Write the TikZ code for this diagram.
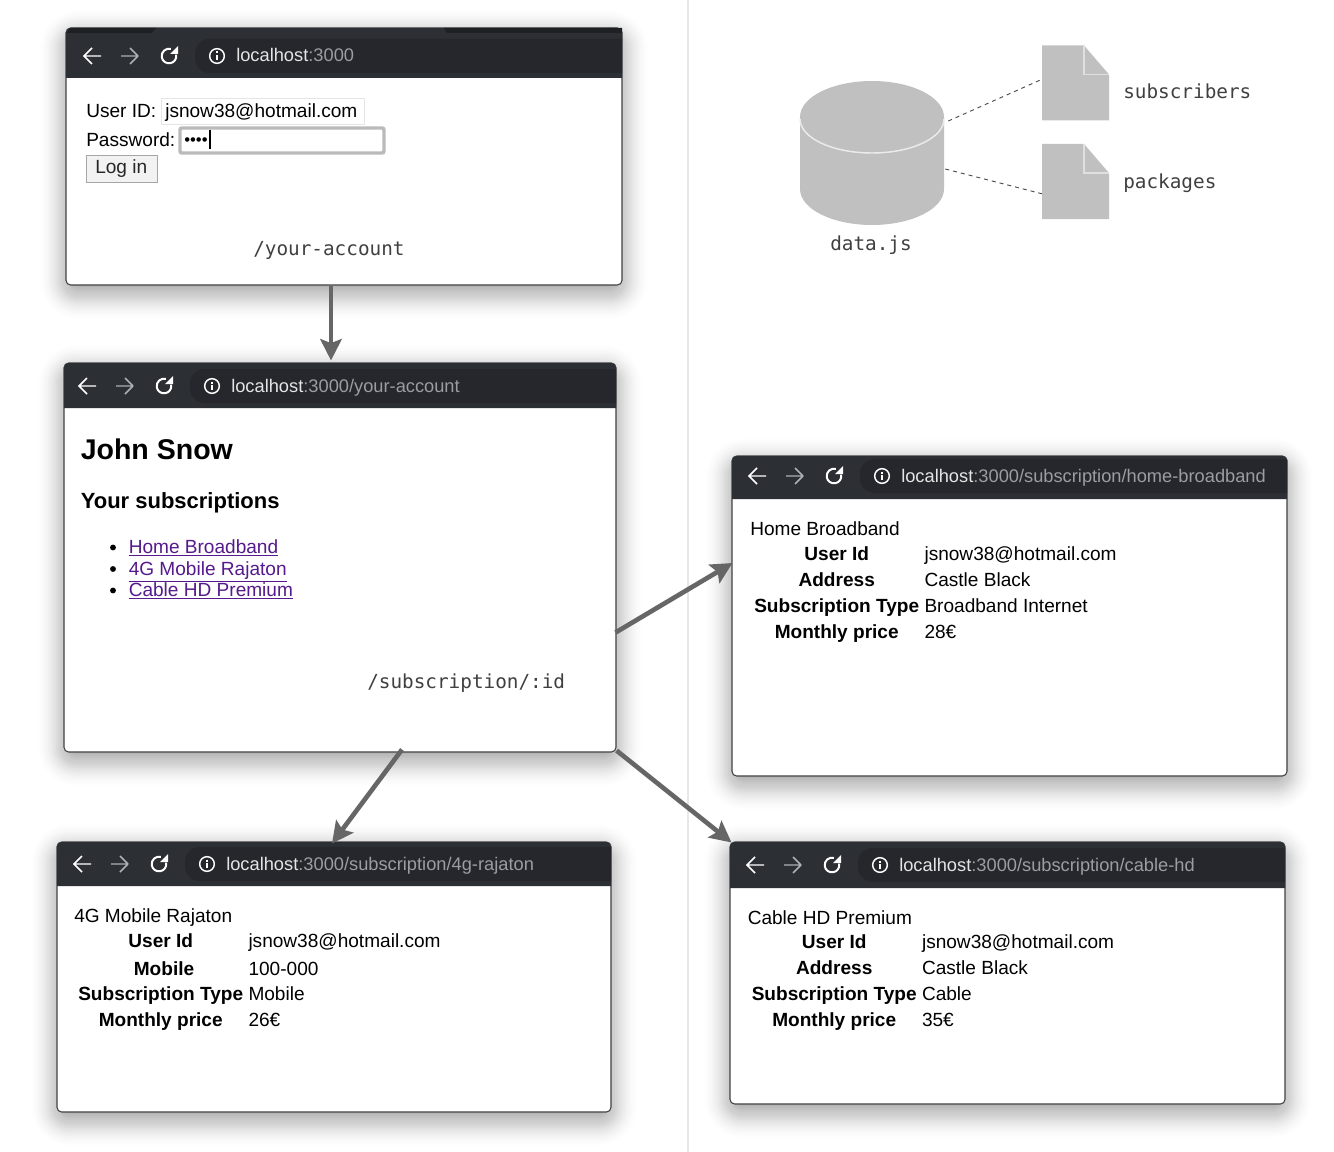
\documentclass[tikz,border=0pt]{standalone}
\usepackage{fontspec}
\setmainfont{Liberation Sans}
\setmonofont{DejaVu Sans Mono}
\usetikzlibrary{arrows.meta,calc,fit}

\definecolor{barcol}{HTML}{2C2F33}
\definecolor{pillcol}{HTML}{25272C}
\definecolor{tabcol}{HTML}{1F2023}
\definecolor{urlgray}{HTML}{9A9DA1}
\definecolor{linkcol}{HTML}{551A8B}
\definecolor{storecol}{HTML}{C0C0C0}

\tikzset{
  winbody/.style={draw=black!75, line width=0.8pt, fill=white, rounded corners=3.5pt, inner sep=0pt},
  urltext/.style={anchor=base west, inner sep=0pt, text=white!90!black, font=\fontsize{13.7pt}{16pt}\selectfont},
  pagetext/.style={anchor=base west, inner sep=0pt, font=\fontsize{14.3pt}{17pt}\selectfont},
  tabletext/.style={anchor=north west, inner sep=0pt, font=\fontsize{14.3pt}{19.5pt}\selectfont},
  monotext/.style={anchor=west, inner sep=0pt, text=black!75, font=\ttfamily\fontsize{14.5pt}{17pt}\selectfont},
  linktext/.style={anchor=base west, inner sep=0pt, text=linkcol, font=\fontsize{14.3pt}{17pt}\selectfont},
  flow/.style={draw=black!60, line width=3.5pt, -{Stealth[length=16pt,width=16pt,inset=3pt]}},
  storeline/.style={draw=black!70, line width=0.7pt, dashed},
  docbox/.style={inner sep=0pt, minimum width=50.25pt, minimum height=56.25pt}
}

% name, left, top, right, bottom, bar bottom, back arrow x, path of the url, icon y
\newcommand{\browserwin}[9]{
  \foreach \s in {-10,-8,...,26} {
    \pgfmathsetmacro{\op}{0.04*(1-(\s+10)/40)}
    \pgfmathsetmacro{\rc}{(\s+12)*0.75}
    \fill[black, opacity=\op, rounded corners=\rc pt] (#2-\s,#3+8-\s) rectangle (#4+\s,#5+8+\s);
  }
  \node[winbody, fit={(#2,#3)(#4,#5)}] (#1) {};
  \fill[barcol] (#2,#6) [rounded corners=3.5pt] -- (#2,#3) -- (#4,#3) [sharp corners] -- (#4,#6) -- cycle;
  \begin{scope}[shift={(#7,#9)}]
    \fill[pillcol] (#4-#7,-17) [rounded corners=11pt] -- (103,-17) -- (103,17) [sharp corners] -- (#4-#7,17) -- cycle;
    \draw[white, line width=1.1pt] (9,0) -- (-8,0) (0,-8) -- (-8,0) -- (0,8);
    \draw[urlgray!80, line width=1.1pt] (29,0) -- (46,0) (38,-8) -- (46,0) (38,8) -- (46,0);
    \draw[white, line width=1.5pt] (77,0) ++(10:5.5pt) arc[start angle=10,end angle=-285,radius=5.5pt];
    \fill[white] (86,-10) -- (86,-2) -- (78,-2) -- cycle;
    \draw[white, line width=1.1pt] (125,0) circle[radius=5.5pt];
    \draw[white, line width=1.3pt] (125,-1) -- (125,4) (125,-4.5) -- (125,-2.5);
    \node[urltext] (#1_url) at (144,6) {localhost{\color{urlgray}#8}};
  \end{scope}
}

% name, left, top of the page icon
\newcommand{\docicon}[3]{
  \node[docbox, anchor=north west] (#1) at (#2,#3) {};
  \fill[storecol] (#2,#3) -- (#2+42,#3) -- (#2+67,#3+29) -- (#2+67,#3+75) -- (#2,#3+75) -- cycle;
  \draw[white!88!black, line width=0.9pt] (#2+42,#3) -- (#2+42,#3+29) -- (#2+67,#3+29);
}

\begin{document}
\begin{tikzpicture}[x=0.75pt,y=-0.75pt]
  \useasboundingbox (0,0) rectangle (1334,1152);
  \draw[black!9, line width=0.8pt] (688,0) -- (688,1152);

  % login
  \browserwin{win_login}{66}{28}{622}{285}{78}{92}{:3000}{56}
  \fill[tabcol] (447,33) -- (444,28) -- (622,28) -- (622,33) -- cycle;
  \fill[tabcol] (70,28) -- (156,28) -- (152,33) -- (67,33) -- cycle;
  \node[pagetext] (login_user) at (86,118) {User ID:};
  \node[draw=black!10, line width=0.7pt, fit={(161,98)(364,124)}, inner sep=0pt] (login_input) {};
  \node[pagetext] (login_mail) at (165,118) {jsnow38@hotmail.com};
  \node[pagetext] (login_pass) at (86,146.5) {Password:};
  \node[draw=black!27, line width=2.6pt, fill=white, rounded corners=1.5pt, fit={(180,128)(384,153)}, inner sep=0pt] (login_focus) {};
  \node[pagetext, font=\fontsize{12.5pt}{14pt}\selectfont] (login_dots) at (184,146) {••••};
  \draw[black, line width=0.9pt] (210,130) -- (210,149);
  \node[draw=black!35, line width=0.7pt, fill=black!5, fit={(86,155)(157,182)}, inner sep=0pt] (login_btn) {};
  \node[pagetext, text=black!85] (login_txt) at (95,174) {Log in};
  \node[monotext] (login_route) at (253,250) {/your-account};

  % account
  \browserwin{win_acct}{64}{363}{616}{752}{408}{87}{:3000/your-account}{386}
  \node[pagetext, font=\bfseries\fontsize{21.4pt}{25pt}\selectfont] (acct_name) at (80.5,459) {John Snow};
  \node[pagetext, font=\bfseries\fontsize{16.5pt}{20pt}\selectfont] (acct_subs) at (80.5,508.5) {Your subscriptions};
  \foreach \y/\n/\t in {553.5/home/Home Broadband, 575/mobile/4G Mobile Rajaton, 596.5/cable/Cable HD Premium} {
    \fill ($(113,\y)+(0,-6)$) circle[radius=2.2pt];
    \node[linktext] (link_\n) at (128.5,\y) {\underline{\t}};
  }
  \node[monotext] (acct_route) at (367,683) {/subscription/:id};

  % home broadband
  \browserwin{win_home}{732}{456}{1287}{776}{499}{757}{:3000/subscription/home-broadband}{476}
  \node[tabletext] (home_tab) at (750,517)
  {
  \begin{tabular}{@{\hspace{3pt}}c@{\hspace{4pt}}l}
  \multicolumn{2}{@{}l}{Home Broadband} \\[-0.8pt]
  \textbf{User Id} & jsnow38@hotmail.com \\
  \textbf{Address} & Castle Black \\
  \textbf{Subscription Type} & Broadband Internet \\
  \textbf{Monthly price} & 28€ \\
  \end{tabular}
  };

  % 4g mobile
  \browserwin{win_mobile}{57}{842}{611}{1112}{886}{82}{:3000/subscription/4g-rajaton}{864}
  \node[tabletext] (mobile_tab) at (74,904)
  {
  \begin{tabular}{@{\hspace{3pt}}c@{\hspace{4pt}}l}
  \multicolumn{2}{@{}l}{4G Mobile Rajaton} \\[-0.7pt]
  \textbf{User Id} & jsnow38@hotmail.com \\[1.5pt]
  \hspace{5pt}\textbf{Mobile} & 100-000 \\[-1pt]
  \textbf{Subscription Type} & Mobile \\
  \textbf{Monthly price} & 26€ \\
  \end{tabular}
  };

  % cable
  \browserwin{win_cable}{730}{842}{1285}{1104}{888}{755}{:3000/subscription/cable-hd}{865}
  \node[tabletext] (cable_tab) at (747.5,906)
  {
  \begin{tabular}{@{\hspace{3pt}}c@{\hspace{4pt}}l}
  \multicolumn{2}{@{}l}{Cable HD Premium} \\[-1.5pt]
  \textbf{User Id} & jsnow38@hotmail.com \\
  \textbf{Address} & Castle Black \\
  \textbf{Subscription Type} & Cable \\
  \textbf{Monthly price} & 35€ \\
  \end{tabular}
  };

  % data store
  \node[inner sep=0pt, minimum width=108pt, minimum height=108pt] (store) at (872,153) {};
  \fill[storecol] (800,117) -- (800,189) arc[start angle=180,end angle=360,x radius=54pt,y radius=27pt] -- (944,117) arc[start angle=0,end angle=180,x radius=54pt,y radius=27pt] -- cycle;
  \draw[white!92!black, line width=1.1pt] (800,119) arc[start angle=180,end angle=360,x radius=54pt,y radius=25.5pt];
  \node[monotext, anchor=center] (store_name) at (871,245) {data.js};
  \docicon{doc_subs}{1042}{45.5}
  \docicon{doc_pack}{1042}{144}
  \node[monotext] (subs_name) at (1123,91) {subscribers};
  \node[monotext] (pack_name) at (1123,183) {packages};
  \draw[storeline] ($(store.east)+(4,-32)$) -- ($(doc_subs.west)+(0,-4)$);
  \draw[storeline] ($(store.east)+(1,16)$) -- ($(doc_pack.west)+(0,12)$);

  % flow between pages
  \draw[flow] ($(win_login.south)+(-13,0)$) -- ($(win_acct.north)+(-9,-2)$);
  \draw[flow] ($(win_acct.east)+(-1,75)$) -- ($(win_home.west)+(1,-53)$);
  \draw[flow] ($(win_acct.south)+(62,-3)$) -- ($(win_mobile.north)+(-2,2)$);
  \draw[flow] ($(win_acct.south east)+(0,-2)$) -- ($(win_cable.north west)+(2,1)$);
\end{tikzpicture}
\end{document}
